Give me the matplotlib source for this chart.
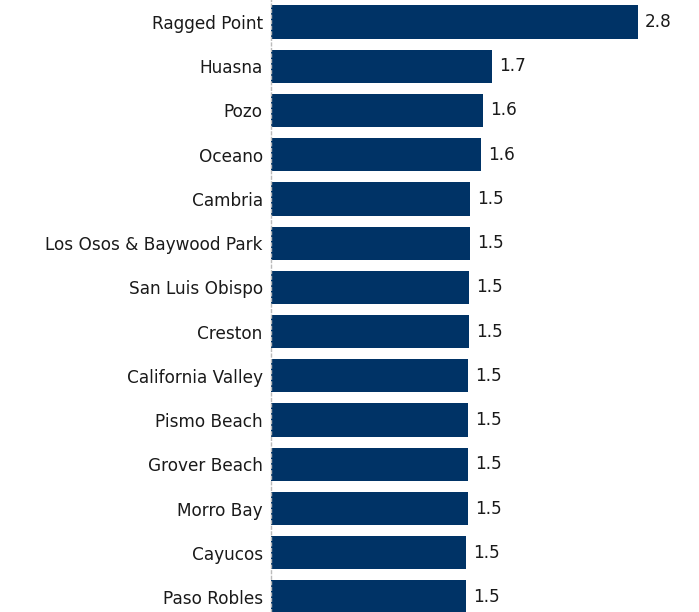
import matplotlib.pyplot as plt

places = ["Ragged Point", "Huasna", "Pozo", "Oceano", "Cambria",
          "Los Osos & Baywood Park", "San Luis Obispo", "Creston",
          "California Valley", "Pismo Beach", "Grover Beach", "Morro Bay",
          "Cayucos", "Paso Robles"]
values = [2.80, 1.69, 1.62, 1.60, 1.52, 1.52, 1.51, 1.51,
          1.50, 1.50, 1.50, 1.50, 1.49, 1.49]

bar_color = "#003366"

fig = plt.figure(figsize=(6.99, 6.12), dpi=100)
ax = fig.add_axes([271 / 699, 0, 428 / 699, 1])

pos = list(range(len(places)))
ax.barh(pos, values, height=0.75, color=bar_color, zorder=2)
for p, v in zip(pos, values):
    ax.text(v + 0.055, p, f"{v:.1f}", va="center", ha="left", fontsize=12.2, color="#1a1a1a")

ax.set_xlim(0, 428 / 131)
ax.set_ylim(13 + 15 / 44.2, -22 / 44.2)
ax.set_yticks(pos)
ax.set_yticklabels(places, fontsize=12.2, color="#1a1a1a")
ax.tick_params(axis="y", length=0, pad=6)
ax.set_xticks([])
for s in ["top", "right", "bottom"]:
    ax.spines[s].set_visible(False)
ax.spines["left"].set_linestyle((0, (2, 2)))
ax.spines["left"].set_color("#bbbbbb")
ax.spines["left"].set_linewidth(1)

fig.savefig("out.png", dpi=100)
